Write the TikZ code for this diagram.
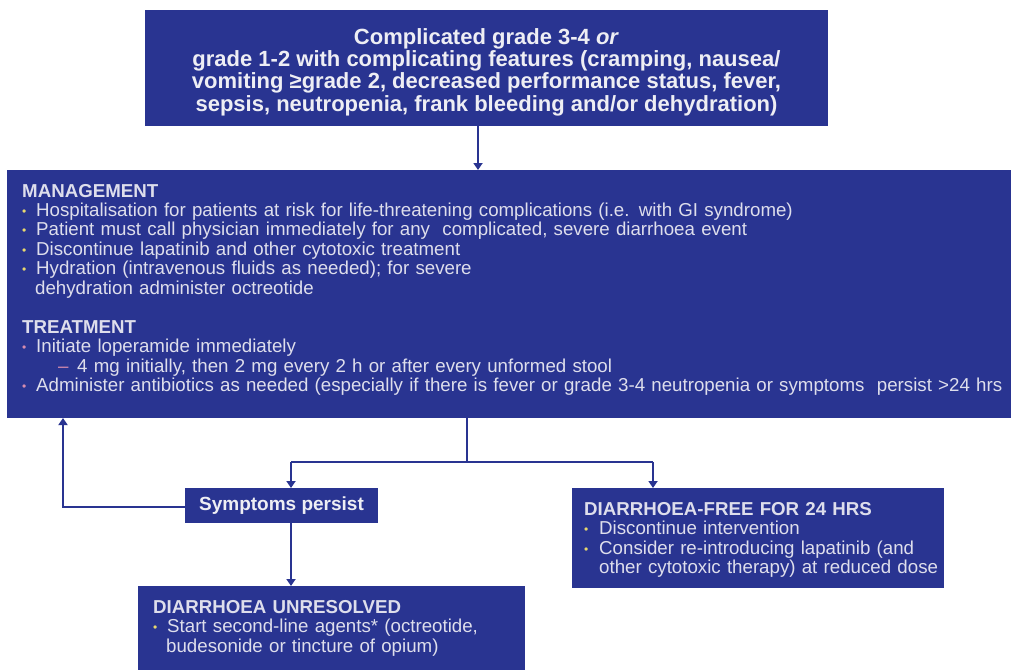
\documentclass[tikz,border=0pt]{standalone}
\usepackage{fontspec}
\setmainfont{Liberation Sans}
\usetikzlibrary{arrows.meta}
\definecolor{boxblue}{RGB}{41,52,145}
\definecolor{txtcol}{RGB}{222,222,236}
\definecolor{topcol}{RGB}{238,238,244}
\definecolor{yelb}{RGB}{232,216,110}
\definecolor{pnkb}{RGB}{214,140,175}
\newcommand\mybul[2][14pt]{\par\noindent\makebox[#1][l]{\hspace{0pt}\textcolor{#2}{\raisebox{1.2pt}{\fontsize{12}{12}\selectfont •}}}}
\newcommand\mysub{\par\noindent\hspace*{36pt}\makebox[19pt][l]{\textcolor{pnkb}{–}}}
\newcommand\myhead[1]{\noindent\textbf{#1}}
\tikzset{
  bbox/.style={fill=boxblue, draw=none, inner sep=0pt, outer sep=0pt, anchor=north west},
  btxt/.style={text=txtcol, inner sep=0pt, anchor=base west, align=left, text width=990pt,
    font=\fontsize{18.7}{19.4}\selectfont},
  conn/.style={draw=boxblue, line width=2.6pt},
  arr/.style={conn, -{Triangle[width=9pt,length=7pt]}},
}
\begin{document}
\begin{tikzpicture}[x=1pt,y=-1pt]
\useasboundingbox (0,0) rectangle (1011,670);
% boxes
\node[bbox, minimum width=683pt, minimum height=116pt] (top) at (145,10) {};
\node[bbox, minimum width=1010pt, minimum height=248pt] (main) at (7,170) {};
\node[bbox, minimum width=193pt, minimum height=35pt] (sym) at (185,488) {};
\node[bbox, minimum width=372pt, minimum height=100pt] (free) at (572,488) {};
\node[bbox, minimum width=387pt, minimum height=84pt] (unres) at (138,586) {};
% texts
\node[text=topcol, inner sep=0pt, align=center, font=\bfseries\fontsize{22}{22.4}\selectfont] (toptxt) at ([yshift=-4pt]top.center)
  {Complicated grade 3-4 \textit{or}\\ grade 1-2 with complicating features (cramping, nausea/\\ vomiting ≥grade 2, decreased performance status, fever,\\ sepsis, neutropenia, frank bleeding and/or dehydration)};
\node[btxt] (maintxt) at (22,197) {%
  \myhead{MANAGEMENT}
  \mybul{yelb}Hospitalisation for patients at risk for life-threatening complications (i.e. with GI syndrome)
  \mybul{yelb}Patient must call physician immediately for any \ complicated, severe diarrhoea event
  \mybul{yelb}Discontinue lapatinib and other cytotoxic treatment
  \mybul{yelb}Hydration (intravenous fluids as needed); for severe
  \par\noindent\hspace*{13pt}dehydration administer octreotide
  \par\vskip 20pt
  \myhead{TREATMENT}
  \mybul{pnkb}Initiate loperamide immediately
  \mysub 4 mg initially, then 2 mg every 2 h or after every unformed stool
  \mybul{pnkb}Administer antibiotics as needed (especially if there is fever or grade 3-4 neutropenia or symptoms \ persist >24 hrs\par};
\node[text=topcol, inner sep=0pt, font=\bfseries\fontsize{19}{19}\selectfont] (symtxt) at (sym.center) {Symptoms persist};
\node[btxt, text width=355pt] (freetxt) at (584,515.5) {%
  \myhead{DIARRHOEA-FREE FOR 24 HRS}
  \mybul[15pt]{yelb}Discontinue intervention
  \mybul[15pt]{yelb}Consider re-introducing lapatinib (and
  \par\noindent\hspace*{15pt}other cytotoxic therapy) at reduced dose\par};
\node[btxt, text width=370pt] (unrestxt) at (153,613.5) {%
  \myhead{DIARRHOEA UNRESOLVED}
  \mybul{yelb}Start second-line agents* (octreotide,
  \par\noindent\hspace*{13pt}budesonide or tincture of opium)\par};
% connectors
\coordinate (a1) at (478,0);
\coordinate (split) at (467,462);
\coordinate (col) at (291,462);
\coordinate (col2) at (653,462);
\coordinate (lp) at (63,507);
\draw[arr] (top.south -| a1) -- (main.north -| a1);
\draw[conn] (main.south -| split) -- (split);
\draw[conn] (col) -- (col2);
\draw[arr] (col) -- (sym.north -| col);
\draw[arr] (col2) -- (free.north -| col2);
\draw[arr] (sym.south -| col) -- (unres.north -| col);
\draw[arr] (sym.west |- lp) -- (lp) -- (main.south -| lp);
\end{tikzpicture}
\end{document}
